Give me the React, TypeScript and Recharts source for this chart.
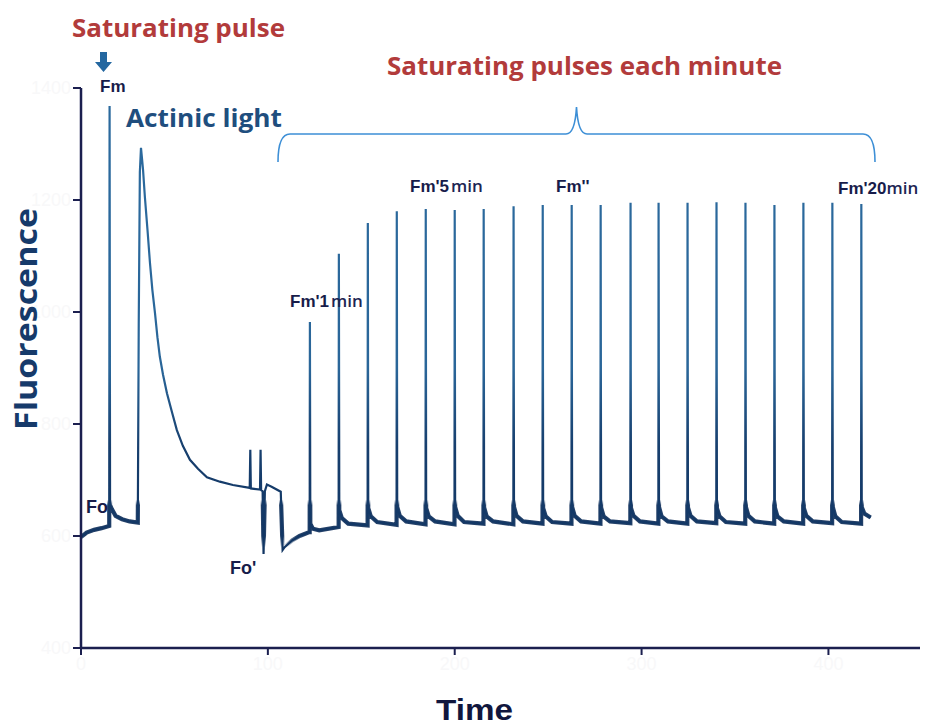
import { LineChart, Line, XAxis, YAxis } from "recharts";

// dark-adapted start, Fm flash, actinic light on, far-red / Fo' step
const introTime = [
  0, 3, 7, 11, 15.1, 15.3, 15.55, 16.5, 18.5, 22, 26, 30.4, 30.9, 31.5, 32.1,
  32.7, 33.2, 34.2, 35.6, 36.9, 38.2, 39.6, 40.9, 42.2, 43.9, 46, 48.7, 51.3,
  54.5, 58.3, 62.6, 67.4, 74.3, 81.3, 90.3, 90.6, 90.9,
  95.8, 96.1, 96.4, 97.2, 97.7, 98.4, 99.5, 102, 106.9, 107.9, 109, 113, 117, 122.2,
];
const introFluor = [
  598, 606, 611, 614, 618, 1368, 655, 648, 636, 630, 626, 624, 980, 1250, 1293,
  1272, 1254, 1205, 1146, 1088, 1039, 998, 955, 920, 888, 855, 821, 789,
  761, 736, 720, 705, 697, 691, 686, 754, 685,
  683, 754, 682, 680, 568, 680, 692, 688, 679, 575, 580, 592, 600, 607,
];

// one saturating pulse each minute (Fm'1 ... Fm'20)
const pulseTime = [
  122.5, 138.0, 153.5, 169.0, 184.5, 200.0, 215.5, 231.5, 247.1, 262.6,
  278.1, 294.1, 309.1, 324.6, 340.1, 355.6, 371.1, 386.6, 402.1, 417.6,
];
const pulsePeak = [
  982, 1104, 1159, 1180, 1184, 1182, 1184, 1189, 1191, 1191,
  1191, 1195, 1195, 1195, 1196, 1195, 1191, 1195, 1195, 1193,
];
const pulseBase = [
  607, 616, 619, 620, 621, 621, 622, 621, 622, 622,
  622, 623, 622, 622, 623, 622, 622, 622, 623, 622,
];
const pulseDrop = [
  622, 646, 650, 652, 650, 652, 651, 652, 650, 652,
  651, 650, 652, 651, 650, 652, 651, 650, 652, 652,
];
const pulseMid = [
  613, 632, 635, 636, 635, 636, 635, 636, 635, 636,
  635, 636, 635, 636, 635, 636, 635, 636, 635, 640,
];
const pulseSettle = [
  610, 622, 625, 626, 626, 625, 626, 626, 625, 626,
  626, 626, 626, 626, 625, 626, 626, 626, 625, 633,
];

const xTicks = [0, 100, 200, 300, 400];
const yTicks = [400, 600, 800, 1000, 1200, 1400];

const trace: { t: number; f: number }[] = introTime.map((t, i) => ({ t, f: introFluor[i] }));
pulseTime.forEach((p, i) => {
  trace.push({ t: p - 0.12, f: pulseBase[i] });
  trace.push({ t: p, f: pulsePeak[i] });
  trace.push({ t: p + 0.22, f: pulseDrop[i] });
  trace.push({ t: p + 1.6, f: pulseMid[i] });
  trace.push({ t: p + 5, f: pulseSettle[i] });
});

const AXIS = "#1b1f4f";
const LABEL = "#171c4a";
const FAINT = "#f8f8f9";

function Fm({ x, y, main, unit, gap = 2 }: { x: number; y: number; main: string; unit?: string; gap?: number }) {
  return (
    <text x={x} y={y} fill={LABEL} fontFamily="Liberation Sans, Arial, sans-serif" fontWeight={700} fontSize={17}>
      {main}
      {unit && (
        <tspan fontFamily="Open Sans, sans-serif" fontWeight={600} fontSize={17} fill="#1d2553" dx={gap}>
          {unit}
        </tspan>
      )}
    </text>
  );
}

export default function App() {
  return (
    <div style={{ position: "absolute", left: 0, top: 0, width: 933, height: 727, background: "#fff" }}>
      <svg width={0} height={0} style={{ position: "absolute" }}>
        <defs>
          <linearGradient id="traceGrad" gradientUnits="userSpaceOnUse" x1={0} y1={88} x2={0} y2={648}>
            <stop offset="0" stopColor="#2b6a9e" />
            <stop offset="0.5" stopColor="#2a6699" />
            <stop offset="0.64" stopColor="#173f6e" />
            <stop offset="1" stopColor="#0c2c58" />
          </linearGradient>
          {/* noisy baseline looks thicker: same trace, only visible near the floor */}
          <linearGradient id="floorGrad" gradientUnits="userSpaceOnUse" x1={0} y1={88} x2={0} y2={648}>
            <stop offset="0" stopColor="#0c2c58" stopOpacity={0} />
            <stop offset="0.735" stopColor="#0c2c58" stopOpacity={0} />
            <stop offset="0.745" stopColor="#0c2c58" stopOpacity={0.9} />
            <stop offset="0.8" stopColor="#0c2c58" stopOpacity={0.9} />
            <stop offset="0.82" stopColor="#0c2c58" stopOpacity={0} />
            <stop offset="1" stopColor="#0c2c58" stopOpacity={0} />
          </linearGradient>
        </defs>
      </svg>
      <LineChart width={933} height={727} data={trace} margin={{ top: 88, right: 13, left: 41, bottom: 49 }}>
        <XAxis
          dataKey="t"
          type="number"
          domain={[0, 449]}
          ticks={xTicks}
          height={30}
          axisLine={{ stroke: AXIS, strokeWidth: 2.5 }}
          tickLine={{ stroke: AXIS, strokeWidth: 2 }}
          tickSize={7}
          tick={{ fill: FAINT, fontSize: 18, fontFamily: "Liberation Sans" }}
        />
        <YAxis
          type="number"
          domain={[400, 1400]}
          ticks={yTicks}
          width={40}
          axisLine={{ stroke: AXIS, strokeWidth: 2.5 }}
          tickLine={{ stroke: AXIS, strokeWidth: 2 }}
          tickSize={8}
          tick={{ fill: FAINT, fontSize: 18, fontFamily: "Liberation Sans" }}
        />
        <Line
          dataKey="f"
          type="linear"
          stroke="url(#floorGrad)"
          strokeWidth={4.2}
          dot={false}
          activeDot={false}
          isAnimationActive={false}
        />
        <Line
          dataKey="f"
          type="linear"
          stroke="url(#traceGrad)"
          strokeWidth={2.2}
          dot={false}
          activeDot={false}
          isAnimationActive={false}
        />
      </LineChart>
      <svg width={933} height={727} style={{ position: "absolute", left: 0, top: 0, pointerEvents: "none" }}>
        <text x={72} y={37} fill="#b23b3b" fontFamily="Open Sans" fontWeight={700} fontSize={25} textLength={213} lengthAdjust="spacingAndGlyphs">
          Saturating pulse
        </text>
        <polygon points="100,52 107,52 107,62 112,62 103.5,72 95,62 100,62" fill="#2467a0" />
        <text x={387} y={75} fill="#b23b3b" fontFamily="Open Sans" fontWeight={700} fontSize={25} textLength={395} lengthAdjust="spacingAndGlyphs">
          Saturating pulses each minute
        </text>
        <text x={126} y={127} fill="#1f4e7e" fontFamily="Open Sans" fontWeight={700} fontSize={25} textLength={156} lengthAdjust="spacingAndGlyphs">
          Actinic light
        </text>
        <path
          d="M 278 162 Q 278 134 290 134 L 566 134 Q 575 134 576.5 107 Q 578 134 587 134 L 863 134 Q 875 134 875 162"
          fill="none"
          stroke="#3d8fd6"
          strokeWidth={1.6}
        />
        <Fm x={100} y={92} main="Fm" />
        <Fm x={290} y={307} main="Fm'1" unit="min" />
        <Fm x={410} y={192} main="Fm'5" unit="min" />
        <Fm x={556} y={192} main="Fm''" />
        <Fm x={838} y={194} main="Fm'20" unit="min" gap={0} />
        <text x={86} y={513} fill={LABEL} fontFamily="Liberation Sans" fontWeight={700} fontSize={18}>
          Fo
        </text>
        <text x={230} y={574} fill={LABEL} fontFamily="Liberation Sans" fontWeight={700} fontSize={18}>
          Fo'
        </text>
        <text
          transform="translate(37,319) rotate(-90)"
          textAnchor="middle"
          fill="#163a6a"
          fontFamily="Open Sans"
          fontWeight={700}
          fontSize={30}
          textLength={222}
          lengthAdjust="spacingAndGlyphs"
        >
          Fluorescence
        </text>
        <text x={436} y={720} fill="#10163d" fontFamily="Liberation Sans" fontWeight={700} fontSize={29} textLength={77} lengthAdjust="spacingAndGlyphs">
          Time
        </text>
      </svg>
    </div>
  );
}
